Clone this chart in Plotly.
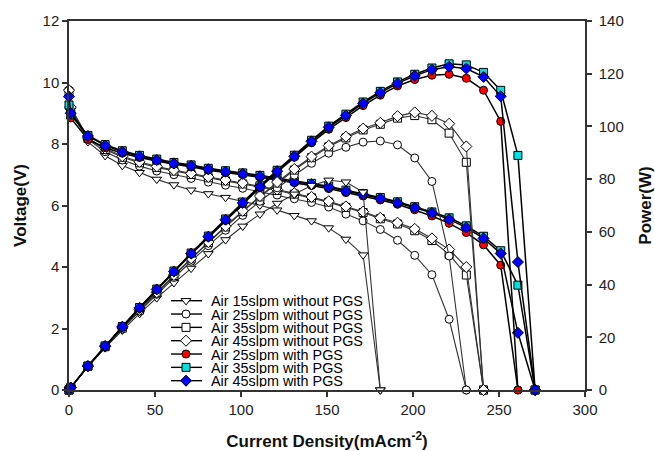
import plotly.graph_objects as go

# Current density (mA cm^-2)
current = [0, 1, 11, 21, 31, 41, 51, 61, 71, 81, 91, 101, 111, 121, 131, 141,
           151, 161, 171, 181, 191, 201, 211, 221, 231, 241, 251, 261, 271]

# Voltage (V) and power (W)
v_15 = [9.7, 9.1, 8.07, 7.62, 7.3, 7.07, 6.85, 6.67, 6.5, 6.38, 6.26, 6.15, 6.01,
        5.85, 5.67, 5.5, 5.27, 4.9, 4.39, 0]
p_15 = [0, 0.91, 8.88, 16.0, 22.63, 28.99, 34.94, 40.69, 46.15, 51.68, 56.97, 62.12,
        66.71, 70.79, 74.28, 77.55, 79.58, 78.89, 75.07, 0]

v_25 = [9.76, 9.15, 8.15, 7.75, 7.48, 7.28, 7.12, 7.0, 6.88, 6.76, 6.66, 6.56, 6.45,
        6.34, 6.22, 6.1, 5.95, 5.72, 5.5, 5.22, 4.87, 4.38, 3.75, 2.3, 0]
p_25 = [0, 0.92, 8.97, 16.28, 23.19, 29.85, 36.31, 42.7, 48.85, 54.76, 60.61, 66.26,
        71.6, 76.71, 81.48, 86.01, 89.85, 92.09, 94.05, 94.48, 93.02, 88.04, 79.13,
        50.83, 0]

v_35 = [9.7, 9.1, 8.18, 7.82, 7.57, 7.39, 7.24, 7.12, 7.01, 6.9, 6.8, 6.7, 6.6, 6.49,
        6.37, 6.25, 6.11, 5.94, 5.77, 5.57, 5.4, 5.18, 4.86, 4.41, 3.74, 0]
p_35 = [0, 0.91, 9.0, 16.42, 23.47, 30.3, 36.92, 43.43, 49.77, 55.89, 61.88, 67.67,
        73.26, 78.53, 83.45, 88.13, 92.26, 95.63, 98.67, 100.82, 103.14, 104.12,
        102.55, 97.46, 86.39, 0]

v_45 = [9.75, 9.2, 8.2, 7.85, 7.6, 7.42, 7.27, 7.15, 7.04, 6.93, 6.83, 6.73, 6.63,
        6.52, 6.4, 6.28, 6.14, 5.97, 5.8, 5.6, 5.44, 5.24, 4.93, 4.57, 4.0, 0]
p_45 = [0, 0.92, 9.02, 16.49, 23.56, 30.42, 37.08, 43.62, 49.98, 56.13, 62.15, 67.97,
        73.59, 78.89, 83.84, 88.55, 92.71, 96.12, 99.18, 101.36, 103.9, 105.32,
        104.02, 101.0, 92.4, 0]

v_25p = [9.2, 8.85, 8.15, 7.88, 7.7, 7.56, 7.45, 7.34, 7.26, 7.15, 7.07, 7.0, 6.92,
         6.83, 6.74, 6.65, 6.55, 6.42, 6.31, 6.18, 6.04, 5.86, 5.66, 5.42, 5.12,
         4.72, 4.06, 0]
p_25p = [0, 0.89, 8.97, 16.55, 23.87, 31.0, 38.0, 44.77, 51.55, 57.92, 64.34, 70.7,
         76.81, 82.64, 88.29, 93.77, 98.91, 103.36, 107.9, 111.86, 115.36, 117.79,
         119.43, 119.78, 118.27, 113.75, 101.91, 0]

v_35p = [9.27, 8.95, 8.28, 7.98, 7.78, 7.63, 7.51, 7.4, 7.32, 7.21, 7.13, 7.06, 6.98,
         6.89, 6.8, 6.72, 6.63, 6.5, 6.39, 6.26, 6.12, 5.96, 5.79, 5.6, 5.34, 5.0,
         4.53, 3.41, 0]
p_35p = [0, 0.9, 9.11, 16.76, 24.12, 31.28, 38.3, 45.14, 51.97, 58.4, 64.88, 71.31,
         77.48, 83.37, 89.08, 94.75, 100.11, 104.65, 109.27, 113.31, 116.89, 119.8,
         122.17, 123.76, 123.35, 120.5, 113.7, 89.0, 0]

v_45p = [9.54, 9.0, 8.26, 7.95, 7.75, 7.6, 7.48, 7.37, 7.29, 7.18, 7.1, 7.03, 6.95,
         6.86, 6.77, 6.69, 6.6, 6.47, 6.36, 6.23, 6.09, 5.93, 5.76, 5.55, 5.28, 4.93,
         4.44, 1.86, 0]
p_45p = [0, 0.9, 9.09, 16.7, 24.03, 31.16, 38.15, 44.96, 51.76, 58.16, 64.61, 71.0,
         77.15, 83.01, 88.69, 94.33, 99.66, 104.17, 108.76, 112.76, 116.32, 119.19,
         121.54, 122.66, 121.97, 118.81, 111.44, 48.55, 0]

names = ["Air 15slpm without PGS", "Air 25slpm without PGS", "Air 35slpm without PGS",
         "Air 45slpm without PGS", "Air 25slpm with PGS", "Air 35slpm with PGS",
         "Air 45slpm with PGS"]
volts = [v_15, v_25, v_35, v_45, v_25p, v_35p, v_45p]
powers = [p_15, p_25, p_35, p_45, p_25p, p_35p, p_45p]

symbols = ["triangle-down", "circle", "square", "diamond", "circle", "square", "diamond"]
fills = ["white", "white", "white", "white", "#FF0000", "#00E0E0", "#0000FF"]
sizes = [8.5, 8, 8, 8.5, 8, 8, 8.5]
widths = [1.1, 1.1, 1.1, 1.1, 1.5, 1.5, 1.5]
lcols = ["#333333", "#333333", "#333333", "#333333", "#000000", "#000000", "#000000"]

FONT = "Liberation Sans, Arial, sans-serif"

fig = go.Figure()
for nm, v, p, sym, fc, sz, lw, lc in zip(names, volts, powers, symbols, fills, sizes, widths, lcols):
    xs = current[:len(v)]
    mk = dict(symbol=sym, color=fc, size=sz, line=dict(color="black", width=1))
    fig.add_trace(go.Scatter(x=xs, y=p, yaxis="y2", mode="lines+markers", name=nm,
                             line=dict(color=lc, width=lw), marker=mk,
                             showlegend=False, cliponaxis=False))
    fig.add_trace(go.Scatter(x=xs, y=v, mode="lines+markers", name=nm,
                             line=dict(color=lc, width=lw), marker=mk,
                             showlegend=False, cliponaxis=False))

# Compact legend drawn on an auxiliary (hidden) pixel-like axis pair
leg_x0, leg_x1, leg_xm, leg_xt = 171, 202, 186, 210
leg_y0, leg_dy = 300.7, 13.33
for i, (nm, sym, fc, sz) in enumerate(zip(names, symbols, fills, sizes)):
    yy = leg_y0 + i * leg_dy
    fig.add_trace(go.Scatter(x=[leg_x0, leg_x1], y=[yy, yy], xaxis="x3", yaxis="y3",
                             mode="lines", line=dict(color="black", width=1.4),
                             showlegend=False, hoverinfo="skip", cliponaxis=False))
    fig.add_trace(go.Scatter(x=[leg_xm], y=[yy], xaxis="x3", yaxis="y3", mode="markers",
                             marker=dict(symbol=sym, color=fc, size=sz,
                                         line=dict(color="black", width=1)),
                             showlegend=False, hoverinfo="skip", cliponaxis=False))
    fig.add_annotation(x=leg_xt, y=yy, xref="x3", yref="y3", text=nm, showarrow=False,
                       xanchor="left", yanchor="middle", borderpad=0, height=13,
                       font=dict(family=FONT, size=14.4, color="black"))

axis_common = dict(showline=True, linecolor="#333333", linewidth=1.5, ticks="outside",
                   ticklen=5, tickwidth=1.5, tickcolor="#333333", showgrid=False,
                   zeroline=False, automargin=False,
                   tickfont=dict(family=FONT, size=15, color="#222222"))

fig.update_layout(
    width=655, height=451,
    margin=dict(l=69, r=70, t=21, b=61, autoexpand=False),
    paper_bgcolor="white", plot_bgcolor="white",
    showlegend=False,
    xaxis=dict(range=[0, 300], tickvals=[0, 50, 100, 150, 200, 250, 300], mirror=True,
               title=dict(text="<b>Current Density(mAcm<sup>-2</sup>)</b>", standoff=22,
                          font=dict(family=FONT, size=17, color="#111111")),
               **axis_common),
    yaxis=dict(range=[0, 12], tickvals=[0, 2, 4, 6, 8, 10, 12],
               title=dict(text="<b>Voltage(V)</b>", standoff=12,
                          font=dict(family=FONT, size=17, color="#111111")),
               **axis_common),
    yaxis2=dict(range=[0, 140], tickvals=[0, 20, 40, 60, 80, 100, 120, 140],
                overlaying="y", side="right", ticklabelstandoff=4,
                title=dict(text="<b>Power(W)</b>", standoff=16,
                           font=dict(family=FONT, size=17, color="#111111")),
                **axis_common),
    xaxis3=dict(range=[69, 585], domain=[0, 1], overlaying="x", anchor="y3",
                visible=False, fixedrange=True),
    yaxis3=dict(range=[390, 21], domain=[0, 1], overlaying="y", anchor="x3",
                visible=False, fixedrange=True),
    font=dict(family=FONT),
)

fig.write_html("out.html", config={"displayModeBar": False},
               post_script="document.body.style.margin='0px';")
